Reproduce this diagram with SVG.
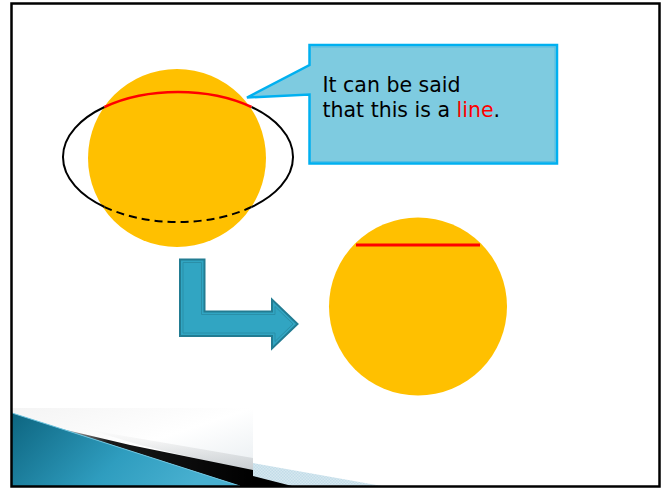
<svg xmlns="http://www.w3.org/2000/svg" width="667" height="488" viewBox="0 0 667 488">
  <defs>
    <linearGradient id="blueG" x1="0" y1="0" x2="1" y2="0.3">
      <stop offset="0" stop-color="#0d6580"/>
      <stop offset="0.6" stop-color="#2f9dbf"/>
      <stop offset="1" stop-color="#48b0d0"/>
    </linearGradient>
    <linearGradient id="whiteG" x1="0" y1="0" x2="1" y2="1">
      <stop offset="0" stop-color="#f4f4f4"/>
      <stop offset="0.5" stop-color="#ffffff"/>
      <stop offset="1" stop-color="#e4eaee"/>
    </linearGradient>
    <linearGradient id="shadowG" x1="60" y1="0" x2="253" y2="0" gradientUnits="userSpaceOnUse">
      <stop offset="0" stop-color="#000" stop-opacity="0.2"/>
      <stop offset="0.25" stop-color="#000" stop-opacity="0.9"/>
      <stop offset="1" stop-color="#000" stop-opacity="1"/>
    </linearGradient>
    <linearGradient id="softG" x1="0" y1="0" x2="0" y2="1">
      <stop offset="0" stop-color="#c8c8c8" stop-opacity="0"/>
      <stop offset="1" stop-color="#b8bec2" stop-opacity="0.7"/>
    </linearGradient>
    <pattern id="checker" width="3" height="3" patternUnits="userSpaceOnUse">
      <rect width="3" height="3" fill="#d6e8f0"/>
      <rect width="1.5" height="1.5" fill="#c2dce8"/>
      <rect x="1.5" y="1.5" width="1.5" height="1.5" fill="#c2dce8"/>
    </pattern>
    <style>
      .sun { fill: #FFC000; }
      .red { fill: none; stroke: #FF0000; stroke-width: 2.5; }
      .ring { fill: none; stroke: #000; stroke-width: 2; }
      .dash { fill: none; stroke: #000; stroke-width: 2; stroke-dasharray: 8 5; }
      .txt { font-family: "DejaVu Sans", Verdana, sans-serif; font-size: 20.5px; fill: #000; }
    </style>
  </defs>

  <rect x="0" y="0" width="667" height="488" fill="#ffffff"/>

  <!-- bottom-left decoration -->
  <g id="decoration">
    <rect x="12" y="408" width="241" height="78" fill="url(#whiteG)"/>
    <polygon points="253,463 382,486 253,486" fill="url(#checker)"/>
    <polygon points="253,476 292,486 253,486" fill="#000"/>
    <polygon points="90,430 253,458 253,472 140,445" fill="url(#softG)"/>
    <polygon points="60,428.5 130,445 253,470 253,486 240,486" fill="url(#shadowG)"/>
    <polygon points="12,413 240,486 12,486" fill="url(#blueG)"/>
    <line x1="12" y1="413" x2="240" y2="486" stroke="#6cc3de" stroke-width="1"/>
  </g>

  <!-- frame -->
  <rect x="11.5" y="3.5" width="648" height="483" fill="none" stroke="#000" stroke-width="2.5"/>

  <!-- top sphere with ring -->
  <g id="sphere-top">
    <circle class="sun" cx="177" cy="158" r="89"/>
    <path class="ring" d="M251.5,107 A115,65 0 0,1 251.5,207"/>
    <path class="ring" d="M104.5,207 A115,65 0 0,1 104.5,107"/>
    <path class="dash" d="M251.5,207 A115,65 0 0,1 104.5,207"/>
    <path class="red" d="M104.5,107 A115,65 0 0,1 251.5,107"/>
  </g>

  <!-- callout -->
  <g id="callout">
    <path d="M309.5,45 L557,45 L557,163.5 L309.5,163.5 L309.5,94.5 L247,97.5 L309.5,65 Z" fill="#7ECBE0" stroke="#00B0F0" stroke-width="2.5" stroke-linejoin="miter"/>
    <path d="M311.5,47 L555,47 L555,161.5 L311.5,161.5" fill="none" stroke="#55bde2" stroke-width="1"/>
    <text class="txt" x="322.5" y="92.3">It can be said</text>
    <text class="txt" x="322.5" y="117.3">that this is a <tspan fill="#FF0000">line</tspan>.</text>
  </g>

  <!-- bent arrow -->
  <g id="bent-arrow">
    <path d="M180,259.5 L204.5,259.5 L204.5,311.5 L272,311.5 L272,299.5 L297.5,324 L272,348.5 L272,336 L180,336 Z" fill="#31A5C2" stroke="#227C92" stroke-width="2"/>
    <path d="M183,262.5 L201.5,262.5 L201.5,314.5 L275,314.5 L275,306.5 L293,324 L275,341.5 L275,333 L183,333 Z" fill="none" stroke="#2a8fa8" stroke-width="1"/>
  </g>

  <!-- bottom circle with line -->
  <g id="sphere-bottom">
    <circle class="sun" cx="418" cy="306.5" r="89"/>
    <line x1="356" y1="245" x2="480" y2="245" stroke="#FF0000" stroke-width="3"/>
  </g>
</svg>
